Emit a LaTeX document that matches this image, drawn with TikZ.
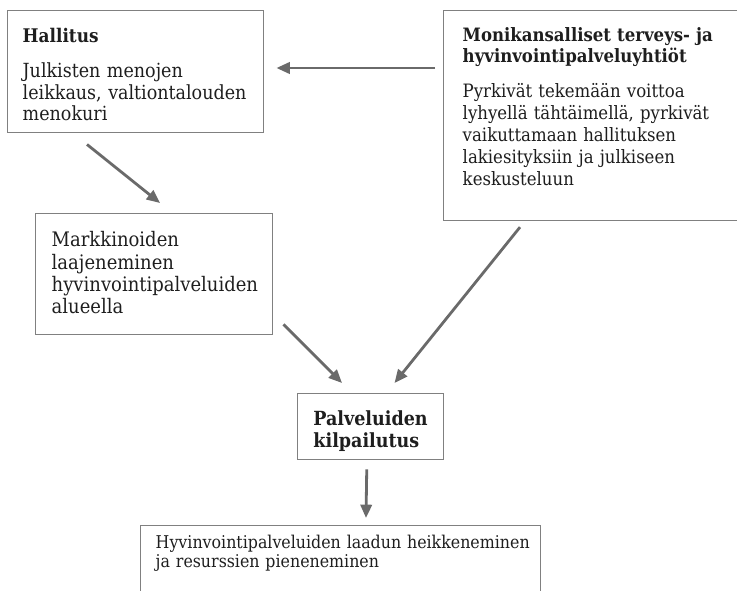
\documentclass[tikz,border=0pt]{standalone}
\usepackage{fontspec}
\setmainfont{DejaVu Serif Condensed}
\usetikzlibrary{arrows.meta}
\definecolor{boxgray}{HTML}{808080}
\definecolor{arrgray}{HTML}{6A6A6A}
\definecolor{txt}{HTML}{1E1E1E}
\newcommand\mytopstrut[1]{\rule{0pt}{#1}}
\newcommand\mybotstrut[1]{\rule[-#1]{0pt}{#1}}
\tikzset{
  box/.style={draw=boxgray, line width=1.1pt, anchor=north west, align=left,
    inner ysep=0pt, text=txt},
  arr/.style={draw=arrgray, line width=2.1pt, -{Triangle[length=10pt,width=8.5pt]}}
}
\begin{document}
\begin{tikzpicture}[x=0.75pt,y=-0.75pt]
\useasboundingbox (0,0) rectangle (737,591);
\node[box, inner xsep=11.25pt, text width=169.5pt, font=\fontsize{14.6pt}{16.125pt}\selectfont] (hall) at (7,10)
  {\mytopstrut{24pt}\textbf{\fontsize{14.1pt}{16.125pt}\selectfont Hallitus}\\[10.125pt]Julkisten menojen\\leikkaus, valtiontalouden\\menokuri\mybotstrut{9pt}};
\node[box, inner xsep=14.25pt, text width=194pt, font=\fontsize{13.8pt}{16.5pt}\selectfont] (moni) at (443,10)
  {\mytopstrut{23pt}\textbf{Monikansalliset terveys- ja}\\[-0.75pt]\textbf{hyvinvointipalveluyhtiöt}\\[9.75pt]Pyrkivät tekemään voittoa\\lyhyellä tähtäimellä, pyrkivät\\vaikuttamaan hallituksen\\lakiesityksiin ja julkiseen\\keskusteluun\mybotstrut{26.25pt}};
\node[box, inner xsep=12pt, text width=153.75pt, font=\fontsize{15pt}{16.8pt}\selectfont] (mark) at (35,213)
  {\mytopstrut{24.75pt}Markkinoiden\\laajeneminen\\\mbox{hyvinvointipalveluiden}\\alueella\mybotstrut{15.5pt}};
\node[box, inner xsep=11.8pt, text width=85.9pt, font=\fontsize{14.6pt}{16.3pt}\selectfont\bfseries] (palv) at (297,393)
  {\mytopstrut{24pt}\mbox{Palveluiden}\\\mbox{kilpailutus}\mybotstrut{9.2pt}};
\node[box, inner xsep=11.25pt, text width=277.5pt, font=\fontsize{13.2pt}{14.6pt}\selectfont] (out) at (140,525)
  {\mytopstrut{16.7pt}\mbox{Hyvinvointipalveluiden laadun heikkeneminen}\\\mbox{ja resurssien pieneneminen}\mybotstrut{60pt}};
\draw[arr] ([shift={(-8,58)}]moni.north west) -- ([shift={(12,58)}]hall.north east);
\draw[arr] ([shift={(80,11)}]hall.south west) -- ([shift={(125,-10)}]mark.north west);
\draw[arr] ([shift={(10,-11)}]mark.south east) -- ([shift={(45,-10)}]palv.north west);
\draw[arr] ([shift={(77,6)}]moni.south west) -- ([shift={(-50,-10)}]palv.north east);
\draw[arr] ([shift={(-4,9)}]palv.south) -- ([shift={(226,-7)}]out.north west);
\end{tikzpicture}
\end{document}
